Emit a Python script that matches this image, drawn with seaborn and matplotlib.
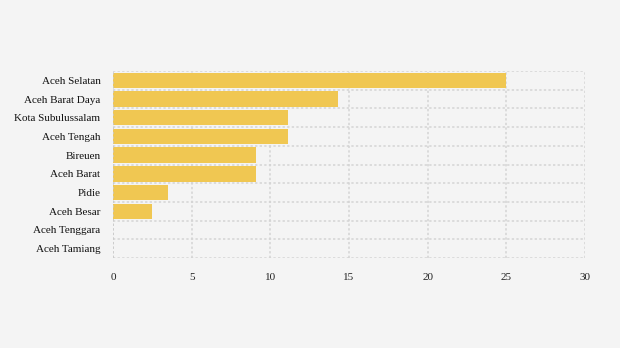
import matplotlib
matplotlib.use("Agg")
import matplotlib.pyplot as plt
import seaborn as sns
import pandas as pd

categories = ["Aceh Selatan", "Aceh Barat Daya", "Kota Subulussalam", "Aceh Tengah",
              "Bireuen", "Aceh Barat", "Pidie", "Aceh Besar", "Aceh Tenggara", "Aceh Tamiang"]
values = [25, 14.3, 11.1, 11.1, 9.1, 9.1, 3.5, 2.5, 0, 0]
x_ticks = [0, 5, 10, 15, 20, 25, 30]

df = pd.DataFrame({"region": categories, "value": values})

sns.set_style("white")
plt.rcParams["font.family"] = ["Liberation Serif", "DejaVu Serif"]

bg = "#f4f4f4"
fig = plt.figure(figsize=(6.2, 3.48), dpi=100, facecolor=bg)
ax = fig.add_axes([113/620, 1 - 258/348, (585-113)/620, (258-71)/348])
ax.set_facecolor(bg)

sns.barplot(data=df, y="region", x="value", orient="h", color="#f0c752",
            saturation=1, width=0.82, linewidth=0, ax=ax, zorder=3)

ax.set_xlim(0, 30)
ax.set_ylim(len(categories) - 0.5, -0.5)
ax.set_xticks(x_ticks)
ax.set_xticklabels([str(t) for t in x_ticks], fontsize=8, color="#222222")
ax.tick_params(axis="x", length=0, pad=10.5)
ax.tick_params(axis="y", length=4.5, color="#dddddd", width=1, labelsize=8, labelcolor="#111111", pad=4.5)
for lbl in ax.get_yticklabels():
    lbl.set_y(lbl.get_position()[1])
    lbl.set_va("center_baseline")
ax.set_xlabel("")
ax.set_ylabel("")

grid_color = "#d4d4d4"
for t in x_ticks:
    ax.axvline(t, color=grid_color, linestyle=(0, (1.5, 1.5)), linewidth=1.1, zorder=1)
for i in range(len(categories) + 1):
    ax.axhline(i - 0.5, color=grid_color, linestyle=(0, (1.5, 1.5)), linewidth=1.1, zorder=1)
ax.axvline(0, color="#c8c8c8", linestyle=(0, (1.5, 1.5)), linewidth=1.1, zorder=4)

for s in ax.spines.values():
    s.set_visible(False)

fig.savefig("out.png", dpi=100, facecolor=bg)
